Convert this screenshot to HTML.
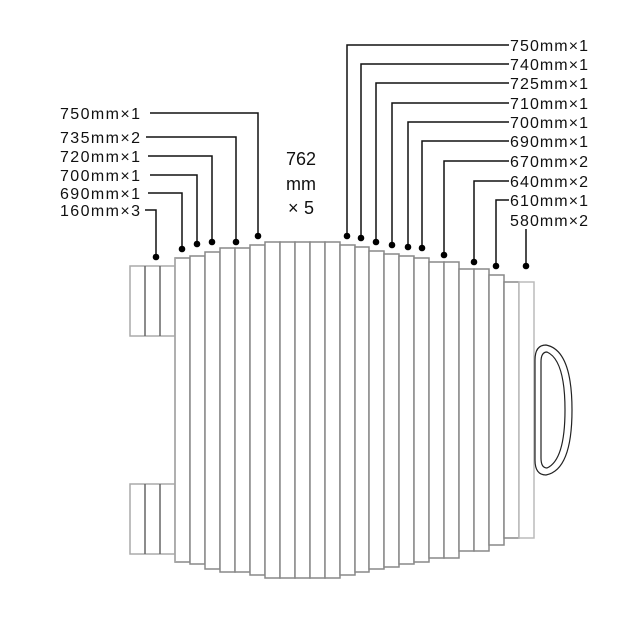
<!DOCTYPE html>
<html><head><meta charset="utf-8"><style>
html,body{margin:0;padding:0;background:#fff;}
svg text{font-family:"Liberation Sans","Noto Sans CJK JP",sans-serif;font-size:16px;fill:#111;}
</style></head><body>
<svg width="640" height="621" viewBox="0 0 640 621" xmlns="http://www.w3.org/2000/svg">
<g fill="#fff" stroke-width="1.5">
<rect x="130" y="266" width="45" height="70" stroke="#aaa"/>
<rect x="130" y="484" width="45" height="70" stroke="#aaa"/>
<line x1="145" y1="266" x2="145" y2="336" stroke="#666"/>
<line x1="160" y1="266" x2="160" y2="336" stroke="#666"/>
<line x1="145" y1="484" x2="145" y2="554" stroke="#666"/>
<line x1="160" y1="484" x2="160" y2="554" stroke="#666"/>
<g stroke="#888">
<rect x="175" y="258" width="15" height="304"/>
<rect x="190" y="256" width="15" height="308"/>
<rect x="205" y="252" width="15" height="317"/>
<rect x="220" y="248" width="15" height="324"/>
<rect x="235" y="248" width="15" height="324"/>
<rect x="250" y="245" width="15" height="330"/>
<rect x="265" y="242" width="15" height="336"/>
<rect x="280" y="242" width="15" height="336"/>
<rect x="295" y="242" width="15" height="336"/>
<rect x="310" y="242" width="15" height="336"/>
<rect x="325" y="242" width="15" height="336"/>
<rect x="340" y="245" width="15" height="330"/>
<rect x="355" y="247" width="14" height="325"/>
<rect x="369" y="251" width="15" height="318"/>
<rect x="384" y="254" width="15" height="313"/>
<rect x="399" y="256" width="15" height="308"/>
<rect x="414" y="258" width="15" height="304"/>
<rect x="429" y="262" width="15" height="296"/>
<rect x="444" y="262" width="15" height="296"/>
<rect x="459" y="269" width="15" height="282"/>
<rect x="474" y="269" width="15" height="282"/>
<rect x="489" y="275" width="15" height="270"/>
<rect x="504" y="282" width="15" height="256"/>
<rect x="519" y="282" width="15" height="256" stroke="#bbb"/>
</g>
<line x1="175" y1="258" x2="175" y2="562" stroke="#aaa"/>
</g>
<g fill="none" stroke="#222" stroke-width="1.2">
<path d="M535 360 Q535 345 546 345 Q572 350 572 410 Q572 470 546 475 Q535 475 535 460 Z"/>
<path d="M541 362 Q541 352 547 352 Q565 360 565 410 Q565 460 547 468 Q541 468 541 458 Z"/>
</g>
<g stroke="#111" stroke-width="1.5" fill="none">
<polyline points="150,113 258,113 258,236"/>
<polyline points="146,137 236,137 236,242"/>
<polyline points="148,156 212,156 212,242"/>
<polyline points="150,175 197,175 197,244"/>
<polyline points="148,193 182,193 182,249"/>
<polyline points="145,210 156,210 156,257"/>
<polyline points="509,45 347,45 347,236"/>
<polyline points="509,64 361,64 361,238"/>
<polyline points="509,83 376,83 376,242"/>
<polyline points="509,103 392,103 392,245"/>
<polyline points="509,122 408,122 408,247"/>
<polyline points="509,141 422,141 422,248"/>
<polyline points="509,161 444,161 444,255"/>
<polyline points="509,181 474,181 474,262"/>
<polyline points="509,200 496,200 496,266"/>
<polyline points="526,229 526,266"/>
</g>
<g fill="#000">
<circle cx="258" cy="236" r="3.3"/><circle cx="236" cy="242" r="3.3"/><circle cx="212" cy="242" r="3.3"/>
<circle cx="197" cy="244" r="3.3"/><circle cx="182" cy="249" r="3.3"/><circle cx="156" cy="257" r="3.3"/>
<circle cx="347" cy="236" r="3.3"/><circle cx="361" cy="238" r="3.3"/><circle cx="376" cy="242" r="3.3"/>
<circle cx="392" cy="245" r="3.3"/><circle cx="408" cy="247" r="3.3"/><circle cx="422" cy="248" r="3.3"/>
<circle cx="444" cy="255" r="3.3"/><circle cx="474" cy="262" r="3.3"/><circle cx="496" cy="266" r="3.3"/>
<circle cx="526" cy="266" r="3.3"/>
</g>
<g>
<text x="60" y="119" textLength="80" lengthAdjust="spacing">750mm×1</text>
<text x="60" y="143" textLength="80" lengthAdjust="spacing">735mm×2</text>
<text x="60" y="162" textLength="80" lengthAdjust="spacing">720mm×1</text>
<text x="60" y="181" textLength="80" lengthAdjust="spacing">700mm×1</text>
<text x="60" y="199" textLength="80" lengthAdjust="spacing">690mm×1</text>
<text x="60" y="216" textLength="80" lengthAdjust="spacing">160mm×3</text>
</g>
<g>
<text x="510" y="51" textLength="78" lengthAdjust="spacing">750mm×1</text>
<text x="510" y="70" textLength="78" lengthAdjust="spacing">740mm×1</text>
<text x="510" y="89" textLength="78" lengthAdjust="spacing">725mm×1</text>
<text x="510" y="109" textLength="78" lengthAdjust="spacing">710mm×1</text>
<text x="510" y="128" textLength="78" lengthAdjust="spacing">700mm×1</text>
<text x="510" y="147" textLength="78" lengthAdjust="spacing">690mm×1</text>
<text x="510" y="167" textLength="78" lengthAdjust="spacing">670mm×2</text>
<text x="510" y="187" textLength="78" lengthAdjust="spacing">640mm×2</text>
<text x="510" y="206" textLength="78" lengthAdjust="spacing">610mm×1</text>
<text x="510" y="226" textLength="78" lengthAdjust="spacing">580mm×2</text>
</g>
<g text-anchor="middle">
<text x="301" y="165" style="font-size:18px">762</text>
<text x="301" y="190" style="font-size:18px">mm</text>
<text x="301" y="214" style="font-size:18px" textLength="26" lengthAdjust="spacing">×5</text>
</g>
</svg>
</body></html>
